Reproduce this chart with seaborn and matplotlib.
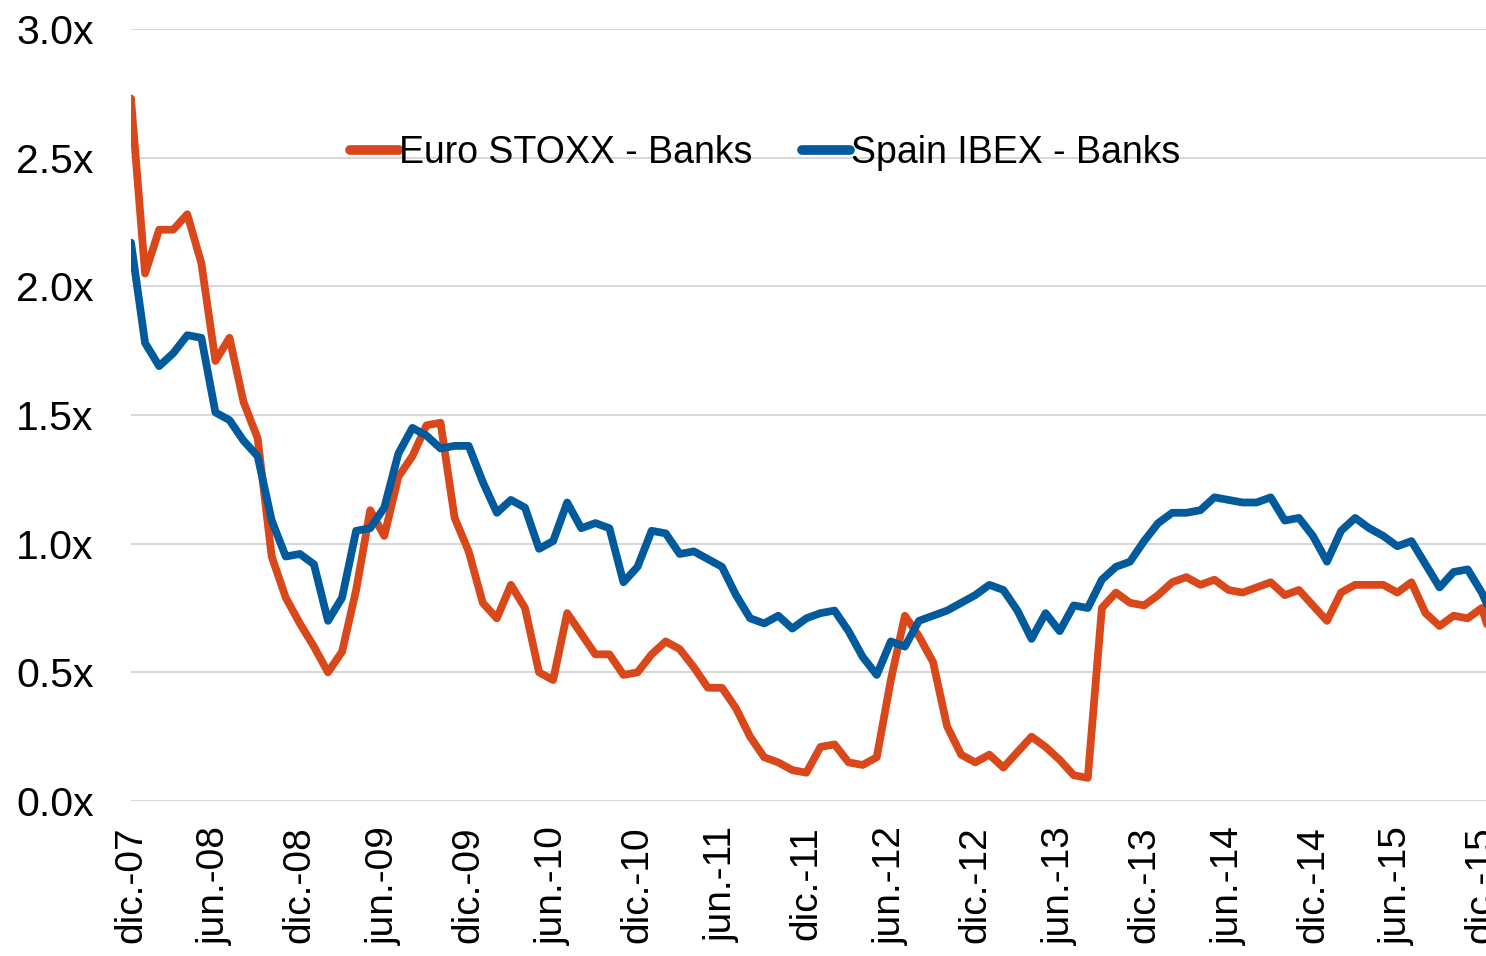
import seaborn as sns
import matplotlib.pyplot as plt
import numpy as np
import pandas as pd

# Datos mensuales, dic-07 a ene-16 (el ultimo punto queda cortado a la derecha)
euro_stoxx = [2.73, 2.05, 2.22, 2.22, 2.28, 2.09, 1.71, 1.80, 1.55, 1.41,
              0.95, 0.79, 0.69, 0.60, 0.50, 0.58, 0.82, 1.13, 1.03, 1.26,
              1.34, 1.46, 1.47, 1.10, 0.97, 0.77, 0.71, 0.84, 0.75, 0.50,
              0.47, 0.73, 0.65, 0.57, 0.57, 0.49, 0.50, 0.57, 0.62, 0.59,
              0.52, 0.44, 0.44, 0.36, 0.25, 0.17, 0.15, 0.12, 0.11, 0.21,
              0.22, 0.15, 0.14, 0.17, 0.47, 0.72, 0.64, 0.54, 0.29, 0.18,
              0.15, 0.18, 0.13, 0.19, 0.25, 0.21, 0.16, 0.10, 0.09, 0.75,
              0.81, 0.77, 0.76, 0.80, 0.85, 0.87, 0.84, 0.86, 0.82, 0.81,
              0.83, 0.85, 0.80, 0.82, 0.76, 0.70, 0.81, 0.84, 0.84, 0.84,
              0.81, 0.85, 0.73, 0.68, 0.72, 0.71, 0.75, 0.58]

spain_ibex = [2.17, 1.78, 1.69, 1.74, 1.81, 1.80, 1.51, 1.48, 1.40, 1.34,
              1.09, 0.95, 0.96, 0.92, 0.70, 0.79, 1.05, 1.06, 1.14, 1.35,
              1.45, 1.42, 1.37, 1.38, 1.38, 1.24, 1.12, 1.17, 1.14, 0.98,
              1.01, 1.16, 1.06, 1.08, 1.06, 0.85, 0.91, 1.05, 1.04, 0.96,
              0.97, 0.94, 0.91, 0.80, 0.71, 0.69, 0.72, 0.67, 0.71, 0.73,
              0.74, 0.66, 0.56, 0.49, 0.62, 0.60, 0.70, 0.72, 0.74, 0.77,
              0.80, 0.84, 0.82, 0.74, 0.63, 0.73, 0.66, 0.76, 0.75, 0.86,
              0.91, 0.93, 1.01, 1.08, 1.12, 1.12, 1.13, 1.18, 1.17, 1.16,
              1.16, 1.18, 1.09, 1.10, 1.03, 0.93, 1.05, 1.10, 1.06, 1.03,
              0.99, 1.01, 0.92, 0.83, 0.89, 0.90, 0.81, 0.69]

tick_labels = ["dic.-07", "jun.-08", "dic.-08", "jun.-09", "dic.-09", "jun.-10",
               "dic.-10", "jun.-11", "dic.-11", "jun.-12", "dic.-12", "jun.-13",
               "dic.-13", "jun.-14", "dic.-14", "jun.-15", "dic.-15"]

series_names = ["Euro STOXX - Banks", "Spain IBEX - Banks"]
colors = ["#D9481B", "#005A9C"]

n = len(euro_stoxx)
df = pd.DataFrame({
    "mes": list(range(n)) * 2,
    "valor": euro_stoxx + spain_ibex,
    "serie": [series_names[0]] * n + [series_names[1]] * n,
})

sns.set_style("white")
plt.rcParams["font.family"] = ["Liberation Sans", "DejaVu Sans"]
plt.rcParams["text.color"] = "black"
plt.rcParams["xtick.color"] = "black"
plt.rcParams["ytick.color"] = "black"

fig = plt.figure(figsize=(14.86, 9.56), dpi=100)
ax = fig.add_axes([131 / 1486, 155 / 956, 1355 / 1486, 772 / 956])

sns.lineplot(data=df, x="mes", y="valor", hue="serie", palette=colors,
             linewidth=5.6, ax=ax, legend=True)

ax.set_xlim(0, 96.3)
ax.set_ylim(0, 3.0)
ax.set_yticks(np.arange(0, 3.01, 0.5))
ax.set_yticklabels([f"{v:.1f}x" for v in np.arange(0, 3.01, 0.5)])
ax.set_xticks(range(0, 97, 6))
ax.set_xticklabels(tick_labels, rotation=90)
ax.tick_params(axis="y", length=0, pad=27, labelsize=29.5)
ax.tick_params(axis="x", length=0, pad=18, labelsize=28)
ax.grid(axis="y", color="#D4D4D4", linewidth=1.3)
ax.set_axisbelow(True)
for s in ax.spines.values():
    s.set_visible(False)
ax.set_xlabel("")
ax.set_ylabel("")

leg = ax.legend(loc="center", bbox_to_anchor=(0.468, 0.839), ncol=2,
                frameon=False, fontsize=27, handlelength=1.3,
                handletextpad=0.02, columnspacing=1.3)
for line in leg.get_lines():
    line.set_linewidth(7)
    line.set_solid_capstyle("round")

fig.savefig("out.png", dpi=100)
